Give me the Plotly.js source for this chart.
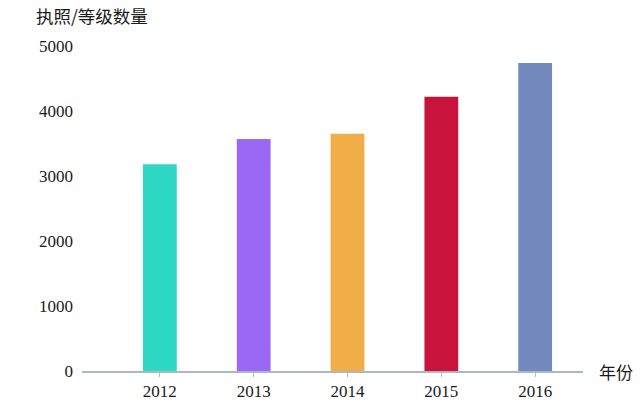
<!DOCTYPE html>
<html>
<head>
<meta charset="utf-8">
<script src="https://cdn.plot.ly/plotly-3.0.1.min.js"></script>
<style>html,body{margin:0;padding:0;background:#fff;}#chart{width:640px;height:404px;}</style>
</head>
<body>
<div id="chart"></div>
<script>
const years = ['2012', '2013', '2014', '2015', '2016'];
const counts = [3180, 3570, 3650, 4220, 4740];
const barColors = ['#2ed8c4', '#9a68f5', '#f0ad48', '#c8143d', '#7389bd'];
const yTicks = [0, 1000, 2000, 3000, 4000, 5000];
const yTitle = '执照/等级数量';
const xTitle = '年份';

const trace = {
  type: 'bar',
  x: years,
  y: counts,
  width: 0.36,
  marker: {color: barColors, line: {width: 0}},
  hoverinfo: 'x+y'
};

const layout = {
  width: 640,
  height: 404,
  margin: {l: 82, r: 57, t: 46, b: 33},
  paper_bgcolor: '#ffffff',
  plot_bgcolor: '#ffffff',
  showlegend: false,
  font: {family: '"Liberation Serif", "Times New Roman", serif', size: 17, color: '#1a1a1a'},
  title: {
    text: yTitle,
    font: {family: '"Noto Sans CJK SC", sans-serif', size: 17.5, color: '#1a1a1a'},
    xref: 'container', yref: 'container',
    x: 36 / 640, xanchor: 'left',
    y: 1 - 17 / 404, yanchor: 'middle'
  },
  xaxis: {
    type: 'category',
    range: [-0.83, 4.51],
    showgrid: false,
    zeroline: false,
    showline: true,
    linecolor: '#a9b9bc',
    linewidth: 2,
    ticks: 'outside',
    ticklen: 4,
    tickcolor: '#b5bcc0',
    tickwidth: 1,
    tickfont: {family: '"Liberation Serif", serif', size: 17, color: '#1a1a1a'},
    fixedrange: true
  },
  yaxis: {
    range: [0, 5000],
    tickvals: yTicks,
    ticktext: yTicks.map(String),
    showgrid: false,
    zeroline: false,
    showline: false,
    ticks: '',
    ticklabelstandoff: 8,
    tickfont: {family: '"Liberation Serif", serif', size: 17, color: '#1a1a1a'},
    fixedrange: true
  },
  annotations: [{
    text: xTitle,
    xref: 'paper', yref: 'paper',
    x: (597 - 82) / 501, y: 0,
    xanchor: 'left', yanchor: 'middle',
    showarrow: false,
    font: {family: '"Noto Sans CJK SC", sans-serif', size: 17, color: '#1a1a1a'}
  }]
};

Plotly.newPlot('chart', [trace], layout, {displayModeBar: false, staticPlot: true});
</script>
</body>
</html>
